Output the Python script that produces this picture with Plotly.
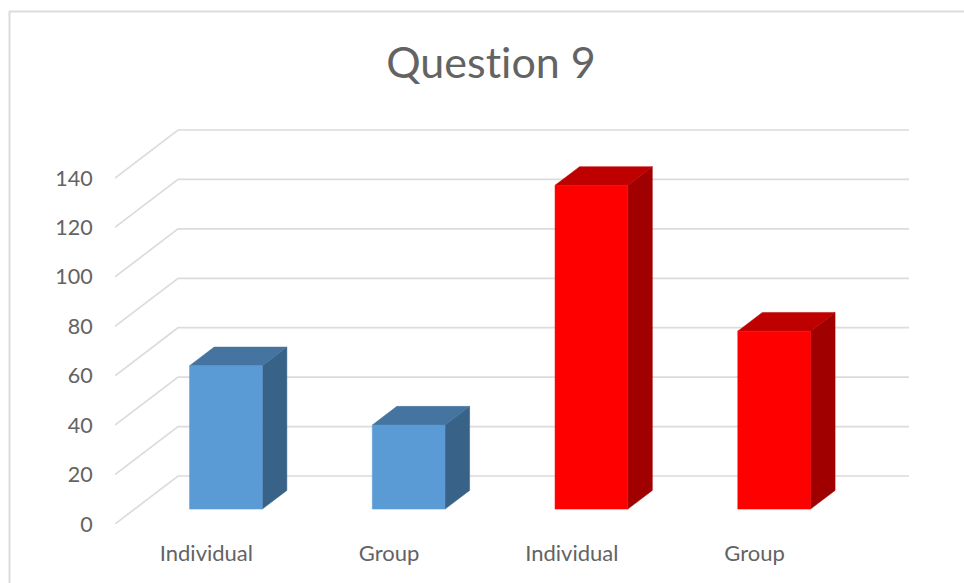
import plotly.graph_objects as go

# ---- data ----
categories = ["Individual", "Group", "Individual", "Group"]
values = [58, 34, 131, 72]
y_ticks = [0, 20, 40, 60, 80, 100, 120, 140]

# ---- styles ----
front_colors = ["#5B9BD5", "#5B9BD5", "#FF0000", "#FF0000"]
top_colors = ["#44749F", "#44749F", "#BF0000", "#BF0000"]
side_colors = ["#386287", "#386287", "#A00000", "#A00000"]
GRID = "#DCDCDC"
TEXT = "#636363"
FONT = "Lato, Carlito, Calibri, sans-serif"

W, H = 964, 583
PL, PR, PT, PB = 115, 909, 120, 524   # plot box in pixels; 10 px of headroom above the wall

# oblique projection: depth d in 0..1 moves a point right and up
DX = 0.345          # category units for full depth
DY = 19.43          # value units for full depth
BAR_W = 0.398
D0, D1 = 0.31, 0.70


def px(x, d):
    return x + DX * d


def py(v, d):
    return v + DY * d


def face(xs, ys, color, name=None):
    return go.Scatter(
        x=xs, y=ys, mode="lines", fill="toself", fillcolor=color,
        line=dict(color=color, width=0.5), showlegend=False,
        name=name, hoverinfo="name+y" if name else "skip")


idx = list(range(len(categories)))
x_lo, x_hi = -0.5, len(categories) - 0.5
fig = go.Figure()

# wall and floor grid
for v in y_ticks:
    fig.add_trace(go.Scatter(
        x=[px(x_lo, 0), px(x_lo, 1), px(x_hi, 1)],
        y=[py(v, 0), py(v, 1), py(v, 1)],
        mode="lines", line=dict(color=GRID, width=1.7),
        hoverinfo="skip", showlegend=False))

# bars
for i, v, fc, tc, sc in zip(idx, values, front_colors, top_colors, side_colors):
    l, r = i - BAR_W / 2, i + BAR_W / 2
    fig.add_trace(face(
        [px(r, D0), px(r, D1), px(r, D1), px(r, D0), px(r, D0)],
        [py(0, D0), py(0, D1), py(v, D1), py(v, D0), py(0, D0)], sc))
    fig.add_trace(face(
        [px(l, D0), px(r, D0), px(r, D1), px(l, D1), px(l, D0)],
        [py(v, D0), py(v, D0), py(v, D1), py(v, D1), py(v, D0)], tc))
    fig.add_trace(face(
        [px(l, D0), px(r, D0), px(r, D0), px(l, D0), px(l, D0)],
        [py(0, D0), py(0, D0), py(v, D0), py(v, D0), py(0, D0)], fc, categories[i]))

pw, ph = PR - PL, PB - PT
y_top = py(y_ticks[-1], 1) * ph / (PB - 130)
fig.update_layout(
    width=W, height=H,
    margin=dict(l=PL, r=W - PR, t=PT, b=H - PB, pad=0),
    paper_bgcolor="white", plot_bgcolor="rgba(0,0,0,0)",
    font=dict(family=FONT, color=TEXT),
    title=dict(text="Question 9", x=491 / W, xanchor="center", y=1 - 63 / H, yanchor="middle",
               font=dict(size=43, color=TEXT, family=FONT)),
    xaxis=dict(range=[x_lo, px(x_hi, 1)], tickmode="array", tickvals=idx, ticktext=categories,
               showgrid=False, zeroline=False, showline=False, ticks="outside", ticklen=10,
               tickcolor="rgba(0,0,0,0)", tickfont=dict(size=22, color=TEXT)),
    yaxis=dict(range=[0, y_top], tickmode="array", tickvals=y_ticks,
               showgrid=False, zeroline=False, showline=False, ticks="outside", ticklen=17,
               tickcolor="rgba(0,0,0,0)", tickfont=dict(size=21.5, color=TEXT)),
    shapes=[
        dict(type="line", xref="paper", yref="paper",
             x0=(9 - PL) / pw, x1=(964 - PL) / pw, y0=(PB - 11.5) / ph, y1=(PB - 11.5) / ph,
             line=dict(color=GRID, width=2)),
        dict(type="line", xref="paper", yref="paper",
             x0=(9.5 - PL) / pw, x1=(9.5 - PL) / pw, y0=(PB - 11) / ph, y1=(PB - 583) / ph,
             line=dict(color=GRID, width=2)),
    ],
)

fig.write_html(
    "out.html",
    config={"displayModeBar": False},
    post_script=(
        "document.body.style.margin='0';"
        "var s=document.createElement('style');"
        "s.textContent='text{font-variant-ligatures:none !important;font-feature-settings:\"liga\" 0 !important;}';"
        "document.head.appendChild(s);"
    ),
)
